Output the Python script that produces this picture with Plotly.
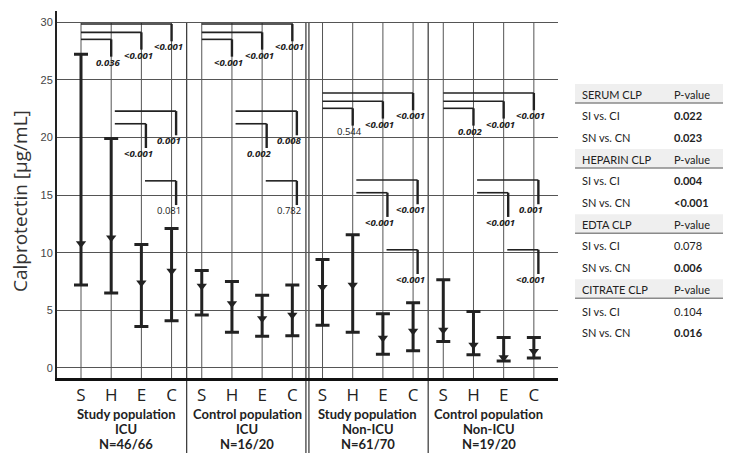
import plotly.graph_objects as go

# tubes and study groups
tubes = ["S", "H", "E", "C"]
group_names = ["Study population", "Control population", "Study population", "Control population"]
group_setting = ["ICU", "ICU", "Non-ICU", "Non-ICU"]
group_n = ["N=46/66", "N=16/20", "N=61/70", "N=19/20"]

# calprotectin (ug/mL): median, lower and upper whisker, 16 values (4 groups x S,H,E,C)
median = [10.8, 11.3, 7.4, 8.4,
          7.1, 5.6, 4.3, 4.6,
          7.0, 7.2, 2.6, 3.2,
          3.3, 2.0, 0.9, 1.45]
low = [7.2, 6.5, 3.6, 4.1,
       4.6, 3.1, 2.75, 2.8,
       3.7, 3.1, 1.2, 1.5,
       2.3, 1.15, 0.6, 0.87]
high = [27.2, 19.9, 10.7, 12.1,
        8.45, 7.5, 6.3, 7.2,
        9.4, 11.55, 4.7, 5.65,
        7.65, 4.9, 2.65, 2.65]

# pairwise p-values per group, order: S-H, S-E, S-C, H-E, H-C, E-C
pairs = [(0, 1), (0, 2), (0, 3), (1, 2), (1, 3), (2, 3)]
pvals = [
    ["0.036", "<0.001", "<0.001", "<0.001", "0.001", "0.081"],
    ["<0.001", "<0.001", "<0.001", "0.002", "0.008", "0.782"],
    ["0.544", "<0.001", "<0.001", "<0.001", "<0.001", "<0.001"],
    ["0.002", "<0.001", "<0.001", "<0.001", "0.001", "<0.001"],
]

# table on the right
tbl_left = ["SERUM CLP", "SI vs. CI", "SN vs. CN",
            "HEPARIN CLP", "SI vs. CI", "SN vs. CN",
            "EDTA CLP", "SI vs. CI", "SN vs. CN",
            "CITRATE CLP", "SI vs. CI", "SN vs. CN"]
tbl_right = ["P-value", "0.022", "0.023",
             "P-value", "0.004", "<0.001",
             "P-value", "0.078", "0.006",
             "P-value", "0.104", "0.016"]

DARK = "#222222"
Y0, Y1 = -0.87, 30.96
XL, XR = -0.795, 15.8

xs = list(range(16))
fig = go.Figure()

fig.add_trace(go.Scatter(
    x=xs, y=median, mode="markers",
    marker=dict(symbol="triangle-down", size=9, color=DARK),
    error_y=dict(type="data", symmetric=False,
                 array=[h - m for h, m in zip(high, median)],
                 arrayminus=[m - l for m, l in zip(median, low)],
                 thickness=3, width=7, color=DARK),
    showlegend=False, hoverinfo="skip",
))


def ypaper(v):
    return (v - Y0) / (Y1 - Y0)


def ypix(py):
    # pixel row (from top of figure) -> paper coordinate
    return (370 - py) / 367


shapes = []
# vertical category lines
for x in xs:
    shapes.append(dict(type="line", xref="x", yref="y", x0=x, x1=x, y0=Y0, y1=30,
                       line=dict(color="#555555", width=1), layer="below"))
# group separators (middle one doubled)
for x in [3.5, 7.45, 7.55, 11.5]:
    shapes.append(dict(type="line", xref="x", yref="paper", x0=x, x1=x, y0=-0.226, y1=ypaper(30),
                       line=dict(color="#333333", width=1.2), layer="below"))

annotations = []
# significance brackets
level = [-1.33, -0.72, 0.0, -8.65, -7.55, -13.6]
for g in range(4):
    base = 29.83 if g < 2 else 23.85
    for k, (a, b) in enumerate(pairs):
        top = base + level[k]
        xa = g * 4 + a + (0.0 if a == 0 else 0.12)
        xb = g * 4 + b + (0.0 if a == 0 else 0.15)
        drop = 1.5 if a == 0 else 2.1
        shapes.append(dict(type="line", xref="x", yref="y", x0=xa, x1=xb, y0=top, y1=top,
                           line=dict(color=DARK, width=1.6)))
        shapes.append(dict(type="line", xref="x", yref="y", x0=xb, x1=xb, y0=top, y1=top - drop,
                           line=dict(color=DARK, width=2.4)))
        p = pvals[g][k]
        sig = p.startswith("<") or float(p) < 0.05
        txt = f"<b><i>{p.replace('<', '&lt;')}</i></b>" if sig else p
        annotations.append(dict(x=g * 4 + b, y=top - drop, xref="x", yref="y", text=txt,
                                showarrow=False, xanchor="center", yanchor="top",
                                xshift=-3, yshift=3,
                                font=dict(family="Open Sans", size=9.5, color=DARK)))

# group labels under the axis
for g in range(4):
    for line, py in zip([group_names[g], group_setting[g], group_n[g]], [406, 421, 436]):
        annotations.append(dict(
            x=g * 4 + 1.5, y=ypix(py), xref="x", yref="paper", showarrow=False,
            xanchor="center", yanchor="middle", text=f"<b>{line}</b>",
            font=dict(family="Lato", size=13, color=DARK)))

# y title
annotations.append(dict(x=-0.074, y=0.482, xref="paper", yref="paper", showarrow=False,
                        text="Calprotectin [µg/mL]", textangle=-90,
                        xanchor="center", yanchor="middle",
                        font=dict(family="Open Sans", size=19, color="#333333")))

# table
for i, (l, r) in enumerate(zip(tbl_left, tbl_right)):
    py = 86 + i * 21.7
    header = i % 3 == 0
    if header:
        shapes.append(dict(type="rect", xref="paper", yref="paper", x0=1.034, x1=1.355,
                           y0=ypix(py + 9), y1=ypix(py - 10),
                           fillcolor="#efefef", line=dict(width=0), layer="below"))
        shapes.append(dict(type="line", xref="paper", yref="paper", x0=1.034, x1=1.355,
                           y0=ypix(py + 9), y1=ypix(py + 9),
                           line=dict(color="#8a8a8a", width=1.5)))
    bold = (not header) and r not in ("0.078", "0.104")
    rt = r.replace("<", "&lt;")
    annotations.append(dict(x=1.0439, y=ypix(py), xref="paper", yref="paper", showarrow=False,
                            xanchor="left", yanchor="middle", text=l,
                            font=dict(family="Lato", size=11, color=DARK)))
    annotations.append(dict(x=1.2275, y=ypix(py), xref="paper", yref="paper", showarrow=False,
                            xanchor="left", yanchor="middle", text=f"<b>{rt}</b>" if bold else rt,
                            font=dict(family="Lato", size=11, color=DARK)))

fig.update_layout(
    width=731, height=453,
    margin=dict(l=49, r=181, t=3, b=83),
    paper_bgcolor="white", plot_bgcolor="white",
    shapes=shapes, annotations=annotations,
    xaxis=dict(range=[XL, XR], tickvals=xs, ticktext=tubes * 4, showgrid=False, zeroline=False,
               showline=True, linecolor="#111111", linewidth=2.5, ticks="",
               ticklabelstandoff=0,
               tickfont=dict(family="Open Sans", size=17, color=DARK)),
    yaxis=dict(range=[Y0, Y1], tickvals=[0, 5, 10, 15, 20, 25, 30], showgrid=True,
               gridcolor="#555555", gridwidth=1, zeroline=False,
               showline=True, linecolor="#222222", linewidth=2, ticks="",
               tickfont=dict(family="Liberation Sans", size=11, color="#444444")),
)

fig.write_html("out.html")
